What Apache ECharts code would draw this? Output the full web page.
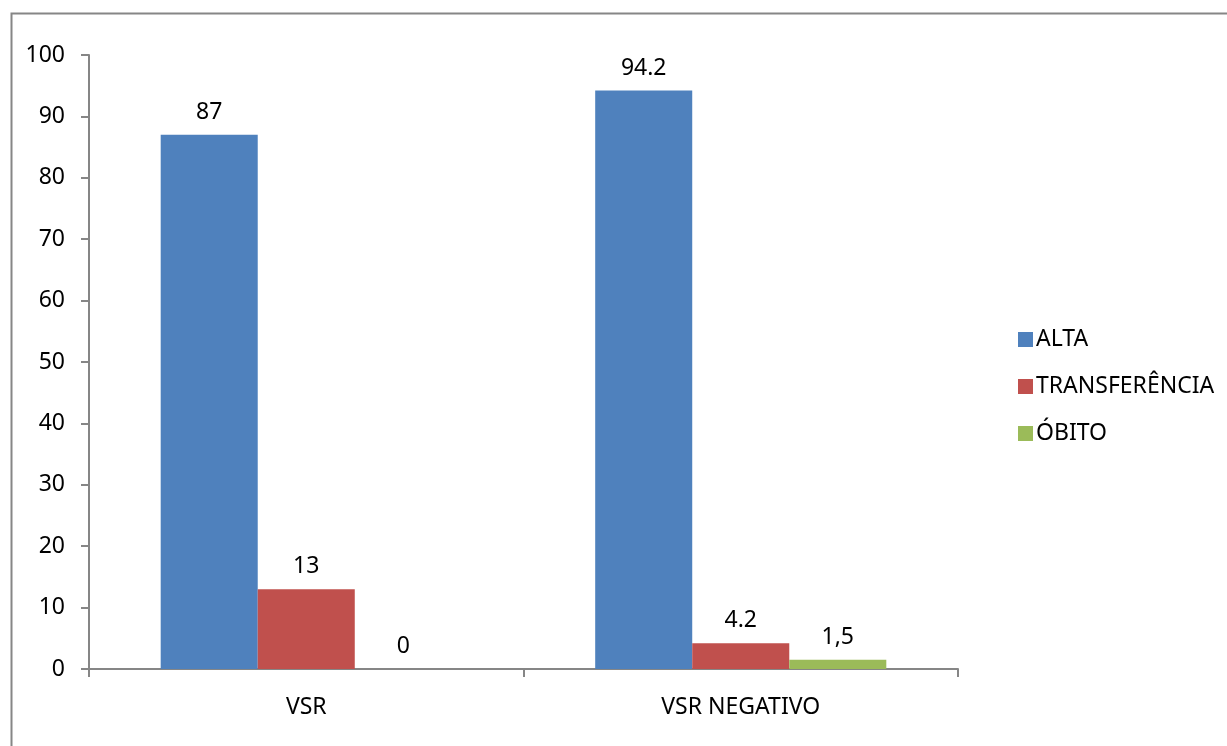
<!DOCTYPE html>
<html>
<head>
<meta charset="utf-8">
<script src="https://cdn.jsdelivr.net/npm/echarts@6/dist/echarts.min.js"></script>
<style>
  html, body { margin: 0; padding: 0; background: #fff; }
  #chart { width: 1227px; height: 746px; }
</style>
</head>
<body>
<div id="chart"></div>
<script>
// Categories and series values
const categories = ['VSR', 'VSR NEGATIVO'];
const seriesNames = ['ALTA', 'TRANSFERÊNCIA', 'ÓBITO'];
const alta = [87, 94.2];
const transferencia = [13, 4.2];
const obito = [0, 1.5];
const yTicks = { min: 0, max: 100, interval: 10 };

const FONT = '"Noto Sans", "Open Sans", sans-serif';
const FS = 23;
const colors = ['#4F81BD', '#C0504D', '#9BBB59'];
const axisGray = '#868686';

function barSeries(name, data, color, formatter) {
  return {
    name: name,
    type: 'bar',
    data: data,
    barGap: '0%',
    barCategoryGap: '33%',
    itemStyle: { color: color },
    label: {
      show: true,
      position: 'top',
      distance: 11,
      color: '#000',
      fontFamily: FONT,
      fontSize: FS,
      formatter: formatter || '{c}'
    }
  };
}

const chart = echarts.init(document.getElementById('chart'), null, { renderer: 'canvas' });
chart.setOption({
  backgroundColor: '#fff',
  animation: false,
  textStyle: { fontFamily: FONT },
  graphic: [{
    type: 'rect',
    left: 9, top: 11,
    shape: { width: 1240, height: 760 },
    style: { fill: 'none', stroke: axisGray, lineWidth: 2 },
    silent: true
  }],
  grid: { left: 89, right: 269, top: 55, bottom: 77, containLabel: false },
  legend: {
    orient: 'vertical',
    left: 1013,
    top: 323,
    itemWidth: 15,
    itemHeight: 15,
    itemGap: 24,
    icon: 'rect',
    textStyle: { fontFamily: FONT, fontSize: FS, color: '#000', padding: [0, 0, 0, -2] },
    data: seriesNames
  },
  xAxis: {
    type: 'category',
    data: categories,
    axisLine: { lineStyle: { color: axisGray, width: 2 } },
    axisTick: { show: true, length: 8, alignWithLabel: false, lineStyle: { color: axisGray, width: 2 } },
    axisLabel: { color: '#000', fontFamily: FONT, fontSize: FS, margin: 27 }
  },
  yAxis: {
    type: 'value',
    min: yTicks.min,
    max: yTicks.max,
    interval: yTicks.interval,
    splitLine: { show: false },
    axisLine: { show: true, lineStyle: { color: axisGray, width: 2 } },
    axisTick: { show: true, length: 8, lineStyle: { color: axisGray, width: 2 } },
    axisLabel: { color: '#000', fontFamily: FONT, fontSize: FS, margin: 24 }
  },
  series: [
    barSeries(seriesNames[0], alta, colors[0]),
    barSeries(seriesNames[1], transferencia, colors[1]),
    barSeries(seriesNames[2], obito, colors[2], p => String(p.value).replace('.', ','))
  ]
});
</script>
</body>
</html>
